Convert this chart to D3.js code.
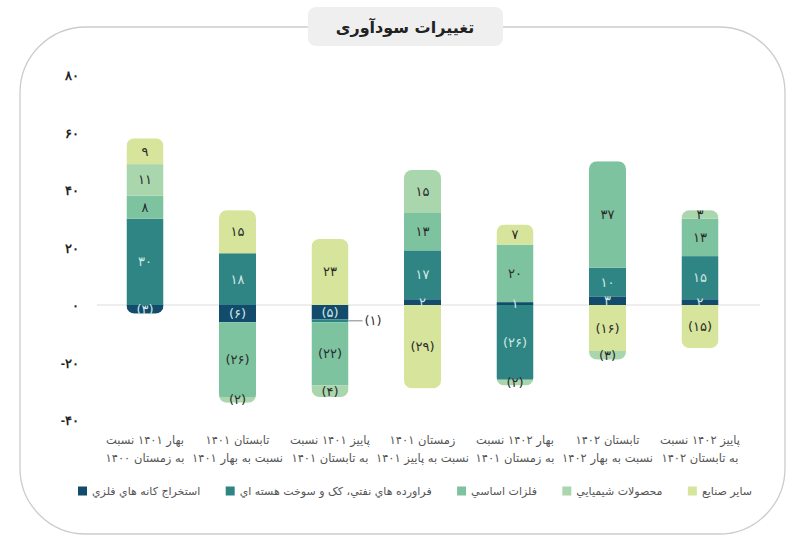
<!DOCTYPE html>
<html>
<head>
<meta charset="utf-8">
<script src="https://cdn.jsdelivr.net/npm/d3@7"></script>
<style>
  body { margin: 0; background: #fff; }
  svg { font-family: "DejaVu Sans", sans-serif; }
  .axis text { font-size: 13px; font-weight: bold; fill: #222; }
  .seg-label { font-size: 13px; }
  .x-label { font-size: 11.5px; fill: #555; }
  .legend text { font-size: 11px; fill: #555; }
</style>
</head>
<body>
<svg id="chart"></svg>
<script>
// categories (left to right), each label in two lines
const categoryLines = [
  ['بهار ۱۴۰۱ نسبت', 'به زمستان ۱۴۰۰'],
  ['تابستان ۱۴۰۱', 'نسبت به بهار ۱۴۰۱'],
  ['پاییز ۱۴۰۱ نسبت', 'به تابستان ۱۴۰۱'],
  ['زمستان ۱۴۰۱', 'نسبت به پاییز ۱۴۰۱'],
  ['بهار ۱۴۰۲ نسبت', 'به زمستان ۱۴۰۱'],
  ['تابستان ۱۴۰۲', 'نسبت به بهار ۱۴۰۲'],
  ['پاییز ۱۴۰۲ نسبت', 'به تابستان ۱۴۰۲']
];

const seriesKeys = ['mining', 'petroleum', 'metals', 'chemical', 'other'];
const seriesNames = [
  'استخراج کانه هاي فلزي',
  'فراورده هاي نفتي، کک و سوخت هسته اي',
  'فلزات اساسي',
  'محصولات شیمیایي',
  'سایر صنایع'
];

const mining    = [-3, -6, -5, 2, 1, 3, 2];
const petroleum = [30, 18, -1, 17, -26, 10, 15];
const metals    = [8, -26, -22, 13, 20, 37, 13];
const chemical  = [11, -2, -4, 15, -2, -3, 3];
const other     = [9, 15, 23, -29, 7, -16, -15];

const yTicks = [-40, -20, 0, 20, 40, 60, 80];

// stacking order above and below zero
const posOrder = ['mining', 'petroleum', 'metals', 'chemical', 'other'];
const negOrder = ['mining', 'petroleum', 'metals', 'other', 'chemical'];

const colors = {
  mining: '#134b6c',
  petroleum: '#2f8584',
  metals: '#7dc3a0',
  chemical: '#aad6ad',
  other: '#d6e49c'
};
const darkSeries = ['mining', 'petroleum'];

const fa = s => String(s).replace(/\d/g, d => '۰۱۲۳۴۵۶۷۸۹'[d]);

class StackedBarVis {
  constructor(_config) {
    this.config = {
      parentElement: _config.parentElement,
      width: 806,
      height: 544
    };
  }

  initVis() {
    let vis = this;

    vis.svg = d3.select(vis.config.parentElement)
      .attr('width', vis.config.width)
      .attr('height', vis.config.height);

    // frame and title box
    vis.svg.append('rect')
      .attr('x', 20).attr('y', 27)
      .attr('width', 765).attr('height', 507)
      .attr('rx', 66)
      .attr('fill', 'none')
      .attr('stroke', '#cccccc')
      .attr('stroke-width', 1.3);

    vis.svg.append('rect')
      .attr('x', 308).attr('y', 7)
      .attr('width', 195).attr('height', 39)
      .attr('rx', 8)
      .attr('fill', '#efefef');

    vis.svg.append('text')
      .attr('x', 405).attr('y', 27)
      .attr('text-anchor', 'middle')
      .attr('dominant-baseline', 'central')
      .attr('direction', 'rtl')
      .style('font-size', '16px')
      .style('font-weight', 'bold')
      .style('fill', '#222')
      .text('تغییرات سودآوری');

    vis.yScale = d3.scaleLinear().domain([-40, 80]).range([420, 75]);
    vis.xScale = d3.scaleBand()
      .domain(d3.range(categoryLines.length))
      .range([98.75, 746.25])
      .paddingInner(0.6)
      .paddingOuter(0.3);

    vis.yAxis = d3.axisLeft(vis.yScale)
      .tickValues(yTicks)
      .tickSize(0)
      .tickPadding(0)
      .tickFormat(d => fa(d));

    vis.yAxisG = vis.svg.append('g')
      .attr('class', 'axis y-axis')
      .attr('transform', 'translate(79,0)');

    vis.zeroLine = vis.svg.append('line')
      .attr('x1', 97).attr('x2', 760)
      .attr('stroke', '#dddddd')
      .attr('stroke-width', 1);

    vis.barsG = vis.svg.append('g');
    vis.xLabelsG = vis.svg.append('g');
    vis.legendG = vis.svg.append('g').attr('class', 'legend');
  }

  updateVis() {
    let vis = this;
    const values = { mining, petroleum, metals, chemical, other };

    vis.bars = categoryLines.map((c, i) => {
      const segs = [];
      let pos = 0, neg = 0;
      posOrder.forEach(k => {
        const v = values[k][i];
        if (v > 0) { segs.push({ key: k, v, y0: pos, y1: pos + v }); pos += v; }
      });
      negOrder.forEach(k => {
        const v = values[k][i];
        if (v < 0) { segs.push({ key: k, v, y0: neg + v, y1: neg }); neg += v; }
      });
      return { i, segs, top: pos, bottom: neg };
    });

    vis.renderVis();
  }

  renderVis() {
    let vis = this;
    const y = vis.yScale, x = vis.xScale, bw = x.bandwidth();

    vis.yAxisG.call(vis.yAxis);
    vis.yAxisG.select('.domain').remove();
    vis.yAxisG.selectAll('text').attr('dy', '0.35em');

    vis.zeroLine.attr('y1', y(0)).attr('y2', y(0));

    const defs = vis.svg.append('defs');
    vis.bars.forEach(b => {
      defs.append('clipPath').attr('id', 'clip-' + b.i)
        .append('rect')
        .attr('x', x(b.i))
        .attr('y', y(b.top))
        .attr('width', bw)
        .attr('height', y(b.bottom) - y(b.top))
        .attr('rx', 8);
    });

    const barG = vis.barsG.selectAll('g.bar')
      .data(vis.bars)
      .join('g')
      .attr('class', 'bar');

    barG.append('g')
      .attr('clip-path', d => `url(#clip-${d.i})`)
      .selectAll('rect')
      .data(d => d.segs.map(s => ({ ...s, i: d.i })))
      .join('rect')
      .attr('x', d => x(d.i))
      .attr('y', d => y(d.y1))
      .attr('width', bw)
      .attr('height', d => y(d.y0) - y(d.y1))
      .attr('fill', d => colors[d.key]);

    // value labels; a very thin segment gets its label outside the bar
    barG.selectAll('g.lab')
      .data(d => d.segs.map(s => ({ ...s, i: d.i })))
      .join('g')
      .attr('class', 'lab')
      .each(function (d) {
        const g = d3.select(this);
        const txt = d.v < 0 ? `(${fa(-d.v)})` : fa(d.v);
        const cy = y((d.y0 + d.y1) / 2);
        const outside = d.key === 'petroleum' && Math.abs(d.v) === 1 && d.v < 0;
        if (outside) {
          g.append('line')
            .attr('x1', x(d.i) + bw).attr('x2', x(d.i) + bw + 14)
            .attr('y1', cy).attr('y2', cy)
            .attr('stroke', '#666').attr('stroke-width', 0.8);
          g.append('text')
            .attr('class', 'seg-label')
            .attr('x', x(d.i) + bw + 16)
            .attr('y', cy)
            .attr('dy', '0.35em')
            .style('fill', '#333')
            .text(txt);
        } else {
          g.append('text')
            .attr('class', 'seg-label')
            .attr('x', x(d.i) + bw / 2)
            .attr('y', cy)
            .attr('dy', '0.35em')
            .attr('text-anchor', 'middle')
            .style('fill', darkSeries.includes(d.key) ? '#cfe8e3' : '#2b2b2b')
            .text(txt);
        }
      });

    // category labels
    vis.xLabelsG.selectAll('text')
      .data(categoryLines)
      .join('text')
      .attr('class', 'x-label')
      .attr('text-anchor', 'middle')
      .attr('direction', 'rtl')
      .attr('x', (d, i) => x(i) + bw / 2)
      .attr('y', 444)
      .each(function (d, i) {
        const t = d3.select(this);
        d.forEach((line, j) => {
          t.append('tspan')
            .attr('x', x(i) + bw / 2)
            .attr('dy', j === 0 ? 0 : 18)
            .text(line);
        });
      });

    // legend, left to right: square then its name, spread over 78..752
    const item = vis.legendG.selectAll('g')
      .data(seriesKeys)
      .join('g');
    item.append('rect')
      .attr('x', 0).attr('y', -4.5)
      .attr('width', 9).attr('height', 9)
      .attr('fill', d => colors[d]);
    const labels = item.append('text')
      .attr('x', 14)
      .attr('dy', '0.35em')
      .attr('direction', 'rtl')
      .attr('text-anchor', 'end')
      .text((d, i) => seriesNames[i]);
    const widths = labels.nodes().map(n => 14 + n.getComputedTextLength());
    const gap = (752 - 78 - d3.sum(widths)) / (widths.length - 1);
    let cx = 78;
    item.each(function (d, i) {
      d3.select(this).attr('transform', `translate(${cx},491)`);
      cx += widths[i] + gap;
    });
  }
}

const vis = new StackedBarVis({ parentElement: '#chart' });
vis.initVis();
vis.updateVis();
</script>
</body>
</html>
